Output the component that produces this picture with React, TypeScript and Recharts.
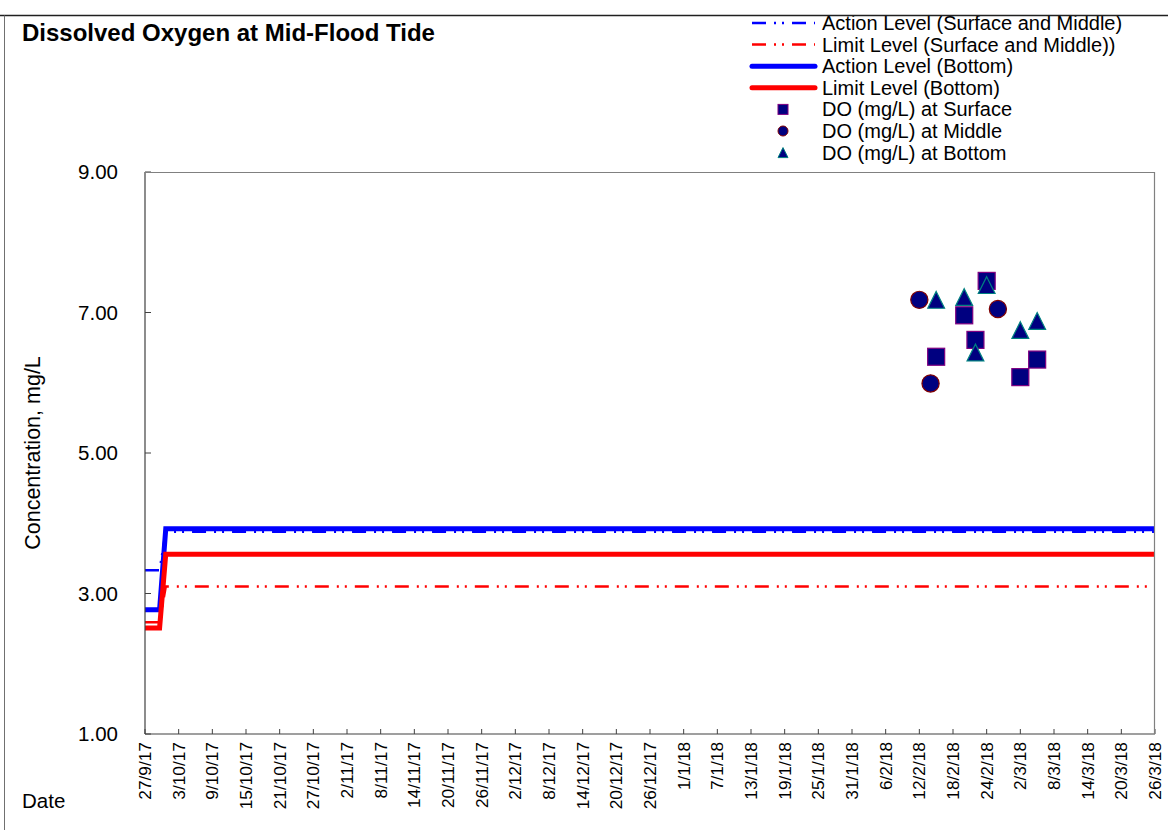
import React from 'react';
import { ComposedChart, Line, Scatter, XAxis, YAxis, Legend } from 'recharts';

const FONT = '"Liberation Sans", Arial, Helvetica, sans-serif';

// X tick labels (d/m/yy)
const xTickLabels = [
  '27/9/17', '3/10/17', '9/10/17', '15/10/17', '21/10/17', '27/10/17', '2/11/17', '8/11/17',
  '14/11/17', '20/11/17', '26/11/17', '2/12/17', '8/12/17', '14/12/17', '20/12/17', '26/12/17',
  '1/1/18', '7/1/18', '13/1/18', '19/1/18', '25/1/18', '31/1/18', '6/2/18', '12/2/18',
  '18/2/18', '24/2/18', '2/3/18', '8/3/18', '14/3/18', '20/3/18', '26/3/18',
];
const yTicks = [1, 3, 5, 7, 9];

// Measured DO values
const surfaceDates = ['15/2/18', '20/2/18', '22/2/18', '24/2/18', '2/3/18', '5/3/18'];
const surfaceDO = [6.37, 6.96, 6.61, 7.45, 6.08, 6.33];
const middleDates = ['12/2/18', '14/2/18', '26/2/18'];
const middleDO = [7.18, 5.99, 7.05];
const bottomDates = ['15/2/18', '20/2/18', '22/2/18', '24/2/18', '2/3/18', '5/3/18'];
const bottomDO = [7.18, 7.22, 6.43, 7.39, 6.75, 6.88];

// Level lines (x in days after 27/9/17)
const levelDays = [0, 2.6, 3.7, 180];
const actionSM = [3.33, 3.33, 3.88, 3.88];
const limitSM = [2.59, 2.59, 3.1, 3.1];
const actionB = [2.77, 2.77, 3.92, 3.92];
const limitB = [2.51, 2.51, 3.56, 3.56];

const ORIGIN = Date.UTC(2017, 8, 27);
function dayOf(s: string): number {
  const [d, m, y] = s.split('/').map(Number);
  return Math.round((Date.UTC(2000 + y, m - 1, d) - ORIGIN) / 86400000);
}

const xTicks = xTickLabels.map(dayOf);
const labelByDay: Record<number, string> = {};
xTickLabels.forEach((l) => { labelByDay[dayOf(l)] = l; });

const levelData = levelDays.map((x, i) => ({
  x, aSM: actionSM[i], lSM: limitSM[i], aB: actionB[i], lB: limitB[i],
}));
const surfaceData = surfaceDates.map((d, i) => ({ x: dayOf(d), y: surfaceDO[i] }));
const middleData = middleDates.map((d, i) => ({ x: dayOf(d), y: middleDO[i] }));
const bottomData = bottomDates.map((d, i) => ({ x: dayOf(d), y: bottomDO[i] }));

const PLOT_LEFT = 145;
const PLOT_TOP = 172;
const PLOT_RIGHT = 1155;
const PLOT_BOTTOM = 734;
const W = 1168;
const H = 830;

const NAVY = '#000080';

const SquareShape = (p: any) => {
  const s = 17;
  return <rect x={p.cx - s / 2} y={p.cy - s / 2} width={s} height={s} fill={NAVY} stroke="#800080" strokeWidth={1.2} />;
};
const CircleShape = (p: any) => (
  <circle cx={p.cx} cy={p.cy} r={8.6} fill={NAVY} stroke="#800000" strokeWidth={1.2} />
);
const TriangleShape = (p: any) => {
  const h = 8.4;
  const pts = `${p.cx},${p.cy - h} ${p.cx + h},${p.cy + h} ${p.cx - h},${p.cy + h}`;
  return <polygon points={pts} fill={NAVY} stroke="#008080" strokeWidth={1.2} />;
};

const XTick = (p: any) => {
  const { x, payload } = p;
  const label = labelByDay[payload.value] ?? '';
  return (
    <g>
      <line x1={x} x2={x} y1={PLOT_BOTTOM} y2={PLOT_BOTTOM - 5} stroke="#404040" strokeWidth={1} />
      <text
        transform={`translate(${x + 6},${PLOT_BOTTOM + 8}) rotate(-90)`}
        textAnchor="end"
        fontSize={17.3}
        fontFamily={FONT}
        fill="#000"
      >
        {label}
      </text>
    </g>
  );
};

const YTick = (p: any) => {
  const { x, y, payload } = p;
  return (
    <g>
      <line x1={PLOT_LEFT} x2={PLOT_LEFT + 6} y1={y} y2={y} stroke="#404040" strokeWidth={1} />
      <text x={x} y={y + 7} textAnchor="end" fontSize={20.5} fontFamily={FONT} fill="#000">
        {Number(payload.value).toFixed(2)}
      </text>
    </g>
  );
};

const legendRows = [
  { kind: 'line', color: '#0000FF', width: 2.5, dash: '14 8 2 6 2 8', label: 'Action Level (Surface and Middle)' },
  { kind: 'line', color: '#FF0000', width: 2.5, dash: '14 8 2 6 2 8', label: 'Limit Level (Surface and Middle))' },
  { kind: 'line', color: '#0000FF', width: 5, dash: '', label: 'Action Level (Bottom)' },
  { kind: 'line', color: '#FF0000', width: 5, dash: '', label: 'Limit Level (Bottom)' },
  { kind: 'square', label: 'DO (mg/L) at Surface' },
  { kind: 'circle', label: 'DO (mg/L) at Middle' },
  { kind: 'triangle', label: 'DO (mg/L) at Bottom' },
];

const LegendContent = () => {
  const x0 = 12;
  const x1 = 75;
  const tx = 82;
  const mx = 43;
  return (
    <svg width={430} height={165} style={{ display: 'block' }}>
      {legendRows.map((r, i) => {
        const cy = 16 + i * 21.6;
        let mark: React.ReactNode = null;
        if (r.kind === 'line') {
          mark = (
            <line x1={x0} x2={x1} y1={cy} y2={cy} stroke={r.color} strokeWidth={r.width}
              strokeDasharray={r.dash || undefined} strokeLinecap={r.dash ? 'butt' : 'round'} />
          );
        } else if (r.kind === 'square') {
          mark = <rect x={mx - 5} y={cy - 5} width={10} height={10} fill={NAVY} stroke="#800080" strokeWidth={1} />;
        } else if (r.kind === 'circle') {
          mark = <circle cx={mx} cy={cy} r={5} fill={NAVY} stroke="#800000" strokeWidth={1} />;
        } else {
          mark = <polygon points={`${mx},${cy - 5} ${mx + 5},${cy + 5} ${mx - 5},${cy + 5}`} fill={NAVY} stroke="#008080" strokeWidth={1} />;
        }
        return (
          <g key={i}>
            {mark}
            <text x={tx} y={cy + 7} fontSize={20} fontFamily={FONT} fill="#000">{r.label}</text>
          </g>
        );
      })}
    </svg>
  );
};

export default function App() {
  return (
    <div style={{ position: 'absolute', left: 0, top: 0, width: W, height: H, background: '#fff', overflow: 'hidden' }}>
      <ComposedChart
        width={W}
        height={H}
        data={levelData}
        margin={{ top: PLOT_TOP, right: W - PLOT_RIGHT, bottom: 0, left: 0 }}
        style={{ fontFamily: FONT }}
      >
        <XAxis
          type="number"
          dataKey="x"
          domain={[0, 180]}
          ticks={xTicks}
          interval={0}
          allowDataOverflow
          height={H - PLOT_BOTTOM}
          tickSize={0}
          tickMargin={0}
          tickLine={false}
          tick={<XTick />}
          axisLine={{ stroke: '#404040', strokeWidth: 1.2 }}
        />
        <YAxis
          type="number"
          domain={[1, 9]}
          ticks={yTicks}
          interval={0}
          allowDataOverflow
          width={PLOT_LEFT}
          tickSize={0}
          tickMargin={27}
          tickLine={false}
          tick={<YTick />}
          axisLine={{ stroke: '#404040', strokeWidth: 1.2 }}
        />
        <Legend
          layout="vertical"
          align="center"
          verticalAlign="middle"
          content={<LegendContent />}
          wrapperStyle={{ position: 'absolute', left: 740, top: 7, width: 430, height: 165 }}
        />
        <Line data={levelData} dataKey="aSM" stroke="#0000FF" strokeWidth={2.5} strokeDasharray="14 8 2 6 2 8"
          dot={false} isAnimationActive={false} type="linear" legendType="none" />
        <Line data={levelData} dataKey="lSM" stroke="#FF0000" strokeWidth={2.5} strokeDasharray="14 8 2 6 2 8"
          dot={false} isAnimationActive={false} type="linear" legendType="none" />
        <Line data={levelData} dataKey="aB" stroke="#0000FF" strokeWidth={5} strokeLinecap="round"
          dot={false} isAnimationActive={false} type="linear" legendType="none" />
        <Line data={levelData} dataKey="lB" stroke="#FF0000" strokeWidth={5} strokeLinecap="round"
          dot={false} isAnimationActive={false} type="linear" legendType="none" />
        <Scatter data={surfaceData} dataKey="y" shape={SquareShape} isAnimationActive={false} legendType="none" />
        <Scatter data={middleData} dataKey="y" shape={CircleShape} isAnimationActive={false} legendType="none" />
        <Scatter data={bottomData} dataKey="y" shape={TriangleShape} isAnimationActive={false} legendType="none" />
      </ComposedChart>
      <svg width={W} height={H} style={{ position: 'absolute', left: 0, top: 0, pointerEvents: 'none' }}>
        <line x1={0} x2={W} y1={15.5} y2={15.5} stroke="#202020" strokeWidth={1.5} />
        <line x1={4.5} x2={4.5} y1={15.5} y2={H} stroke="#707070" strokeWidth={1} />
        <line x1={PLOT_LEFT} x2={PLOT_RIGHT} y1={PLOT_TOP + 0.5} y2={PLOT_TOP + 0.5} stroke="#808080" strokeWidth={1.2} />
        <line x1={PLOT_RIGHT - 0.5} x2={PLOT_RIGHT - 0.5} y1={PLOT_TOP} y2={PLOT_BOTTOM} stroke="#808080" strokeWidth={1.2} />
        <text x={22} y={41} fontSize={24} fontWeight="bold" fontFamily={FONT} fill="#000">
          Dissolved Oxygen at Mid-Flood Tide
        </text>
        <text transform={`translate(40,${(PLOT_TOP + PLOT_BOTTOM) / 2}) rotate(-90)`} textAnchor="middle"
          fontSize={21.5} fontFamily={FONT} fill="#000">
          Concentration, mg/L
        </text>
        <text x={22} y={808} fontSize={20.5} fontFamily={FONT} fill="#000">Date</text>
      </svg>
    </div>
  );
}
